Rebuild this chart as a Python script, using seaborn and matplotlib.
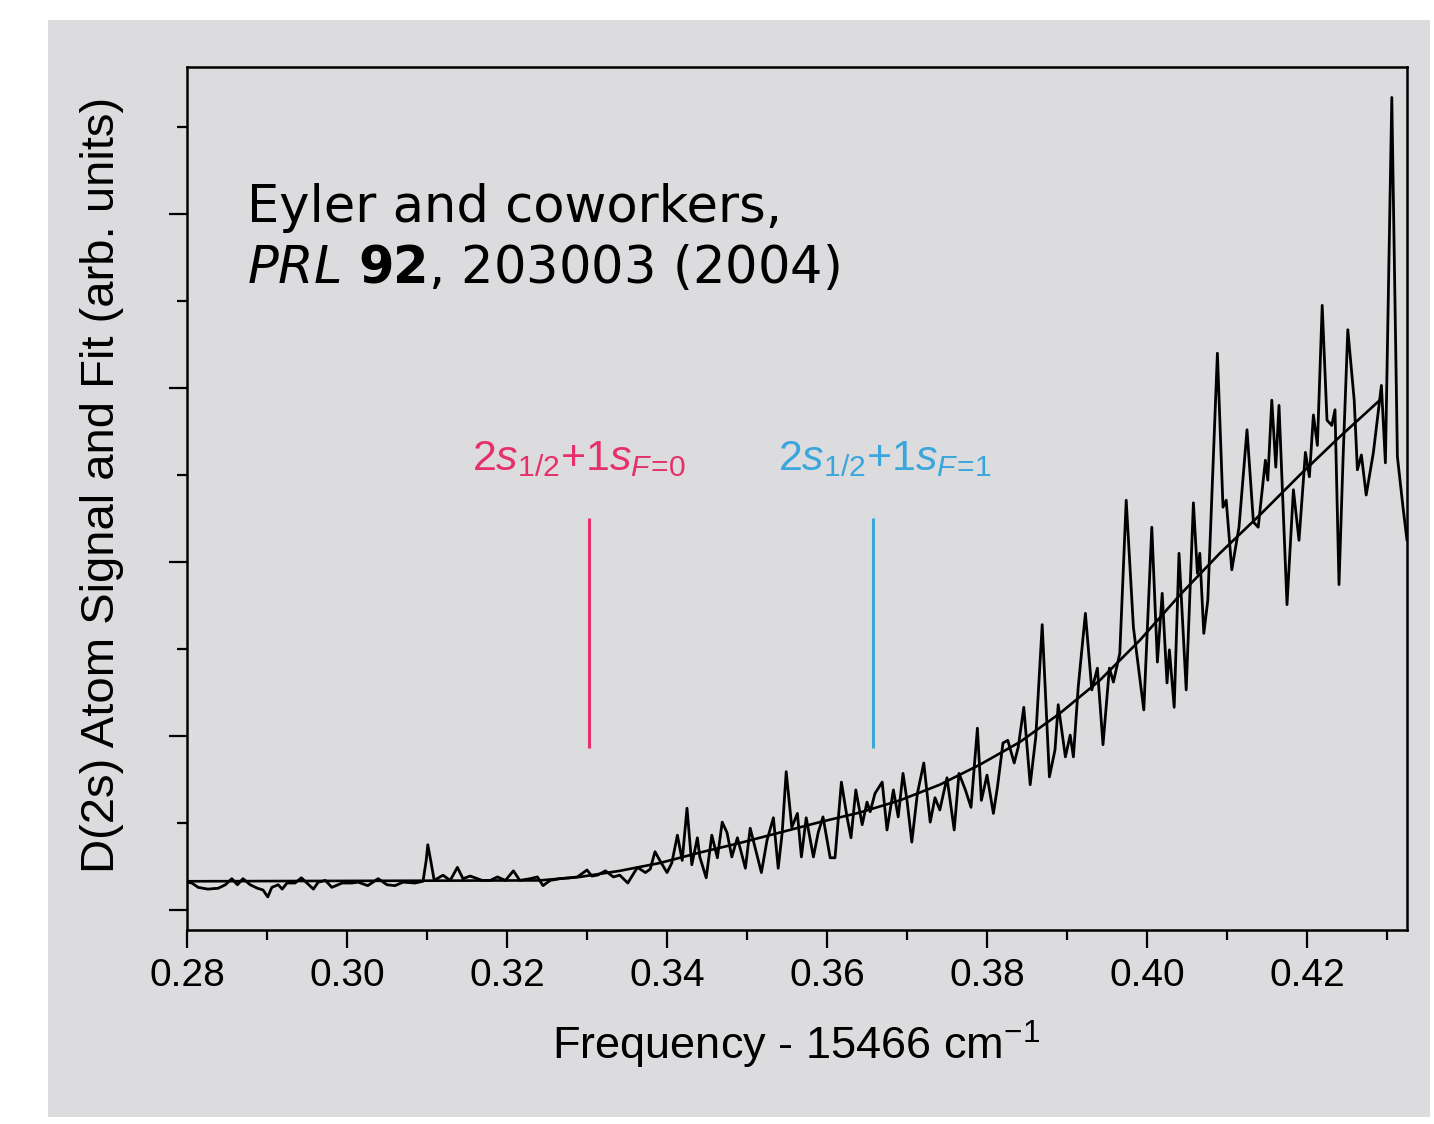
import matplotlib
matplotlib.use("Agg")
import matplotlib.pyplot as plt
import seaborn as sns
import pandas as pd
from matplotlib.patches import Rectangle

# ---------------- data ----------------
sig_x = [0.2800, 0.2806, 0.2814, 0.2826, 0.2839, 0.2848, 0.2856, 0.2863, 0.2870, 0.2879,
         0.2888, 0.2895, 0.2901, 0.2906, 0.2914, 0.2919, 0.2925, 0.2935, 0.2943, 0.2950,
         0.2958, 0.2964, 0.2973, 0.2981, 0.2994, 0.3006, 0.3014, 0.3026, 0.3039, 0.3050,
         0.3060, 0.3070, 0.3085, 0.3095,
         0.3099, 0.3101, 0.3105, 0.3109, 0.3120, 0.3129, 0.3138, 0.3145, 0.3154, 0.3169,
         0.3179, 0.3188, 0.3198, 0.3208, 0.3216, 0.3229, 0.3238, 0.3245, 0.3254, 0.3266,
         0.3279, 0.3288, 0.3300, 0.3306, 0.3313, 0.3323, 0.3333, 0.3341, 0.3351, 0.3363,
         0.3373, 0.3379, 0.3385,
         0.3391, 0.3400, 0.3406, 0.3413, 0.3419, 0.3425, 0.3431, 0.3438, 0.3441, 0.3449,
         0.3456, 0.3463, 0.3469, 0.3475, 0.3481, 0.3488, 0.3498, 0.3504, 0.3510, 0.3518,
         0.3525, 0.3533, 0.3539, 0.3544, 0.3549, 0.3556, 0.3563, 0.3568, 0.3574, 0.3583,
         0.3589, 0.3595, 0.3604, 0.3610, 0.3618, 0.3625, 0.3630, 0.3636, 0.3644, 0.3650,
         0.3654, 0.3660, 0.3669, 0.3675, 0.3683, 0.3689, 0.3695, 0.3700, 0.3706, 0.3713,
         0.3721, 0.3729, 0.3735, 0.3741, 0.3750, 0.3759, 0.3765, 0.3773, 0.3780, 0.3788,
         0.3793, 0.3800, 0.3808, 0.3813, 0.3820, 0.3826, 0.3834, 0.3839, 0.3846, 0.3854,
         0.3861, 0.3869, 0.3878, 0.3885,
         0.3889, 0.3898, 0.3904, 0.3908, 0.3914, 0.3923, 0.3931, 0.3938, 0.3945, 0.3953,
         0.3958, 0.3966, 0.3974, 0.3983, 0.3996, 0.4006, 0.4013, 0.4019, 0.4025, 0.4028,
         0.4034, 0.4040, 0.4049, 0.4058, 0.4063, 0.4066, 0.4071, 0.4076, 0.4088, 0.4095,
         0.4099, 0.4106, 0.4115,
         0.4125, 0.4133, 0.4139, 0.4148, 0.4151, 0.4156, 0.4161, 0.4165, 0.4175, 0.4183,
         0.4190, 0.4198, 0.4203, 0.4208, 0.4213, 0.4219, 0.4225, 0.4231, 0.4235, 0.4240,
         0.4245, 0.4251, 0.4259, 0.4263, 0.4268, 0.4274, 0.4283, 0.4293, 0.4298, 0.4306,
         0.4313, 0.4320, 0.4325]

sig_y = [3.2, 3.1, 2.6, 2.4, 2.5, 2.9, 3.6, 2.9, 3.6, 2.9,
         2.5, 2.3, 1.5, 2.6, 2.9, 2.4, 3.1, 3.1, 3.7, 3.1,
         2.4, 3.2, 3.4, 2.6, 3.1, 3.1, 3.2, 2.8, 3.6, 2.9,
         2.8, 3.2, 3.1, 3.3,
         5.7, 7.5, 5.5, 3.4, 4.0, 3.4, 4.9, 3.6, 3.9, 3.4,
         3.4, 3.8, 3.4, 4.5, 3.4, 3.6, 3.8, 2.8, 3.4, 3.6,
         3.7, 3.8, 4.6, 3.9, 4.0, 4.5, 3.8, 4.0, 3.1, 4.9,
         4.3, 4.7, 6.7,
         5.7, 4.3, 5.4, 8.6, 5.7, 11.7, 5.2, 8.3, 6.1, 3.7,
         8.6, 6.0, 10.1, 8.9, 6.1, 8.3, 4.8, 9.4, 7.2, 4.3,
         8.0, 10.6, 4.8, 8.9, 15.9, 9.5, 11.1, 6.1, 10.6, 6.1,
         8.9, 10.7, 6.0, 6.0, 14.7, 10.7, 8.3, 13.8, 9.8, 12.4,
         11.3, 13.4, 14.7, 9.2, 13.8, 10.7, 15.7, 12.6, 7.8, 13.4,
         16.9, 10.1, 12.9, 11.5, 15.2, 9.2, 15.7, 13.8, 11.8, 20.9,
         12.6, 15.5, 11.1, 14.1, 19.2, 19.5, 16.9, 18.7, 23.3, 14.4,
         19.9, 32.8, 15.3, 18.4,
         23.6, 17.6, 20.1, 17.6, 25.6, 34.1, 25.3, 27.8, 19.0, 27.8,
         26.2, 29.5, 47.1, 32.5, 23.0, 44.0, 28.5, 36.4, 26.1, 29.9,
         23.3, 41.0, 25.3, 46.8, 38.7, 41.0, 31.8, 35.6, 64.0, 46.3,
         47.1, 39.1, 44.0,
         55.2, 44.6, 44.0, 51.7, 49.4, 58.6, 50.9, 58.0, 35.1, 48.3,
         42.5, 52.6, 49.8, 56.9, 53.4, 69.5, 56.3, 55.7, 57.5, 37.4,
         51.7, 66.7, 58.6, 50.6, 52.3, 47.7, 52.6, 60.3, 51.4, 93.4,
         52.1, 46.3, 42.5]

fit_x = [0.2800, 0.3241, 0.3291, 0.3341, 0.3391, 0.3441, 0.3491, 0.3541, 0.3591, 0.3641,
         0.3691, 0.3741, 0.3791, 0.3841, 0.3891, 0.3941, 0.3991, 0.4041, 0.4091, 0.4141,
         0.4191, 0.4241, 0.4291]
fit_y = [3.3, 3.4, 3.8, 4.5, 5.4, 6.6, 7.7, 8.9, 10.1, 11.2,
         12.6, 14.4, 16.7, 19.3, 22.6, 26.4, 31.0, 36.2, 41.0, 45.4,
         50.0, 54.4, 58.6]

marker_x = [0.3302, 0.3658]
marker_ymin = [18.6, 18.6]
marker_ymax = [45.1, 45.1]
marker_colors = ["#e5306c", "#3aa6dc"]
marker_labels = [r"2$s_{\mathregular{1/2}}$+1$s_{F\!=\!\mathregular{0}}$",
                 r"2$s_{\mathregular{1/2}}$+1$s_{F\!=\!\mathregular{1}}$"]
label_x = [0.3156, 0.3539]
label_y = [50.6, 50.6]

x_major = [0.28, 0.30, 0.32, 0.34, 0.36, 0.38, 0.40, 0.42]
x_minor = [0.29, 0.31, 0.33, 0.35, 0.37, 0.39, 0.41, 0.43]
x_ticklabels = ["0.28", "0.30", "0.32", "0.34", "0.36", "0.38", "0.40", "0.42"]
y_major = [0, 20, 40, 60, 80]
y_minor = [10, 30, 50, 70, 90]

# ---------------- style ----------------
sns.set_style("ticks")
plt.rcParams["font.family"] = ["Liberation Sans", "DejaVu Sans"]
plt.rcParams["mathtext.fontset"] = "custom"
plt.rcParams["mathtext.rm"] = "Liberation Sans"
plt.rcParams["mathtext.it"] = "Liberation Sans:italic"
plt.rcParams["mathtext.bf"] = "Liberation Sans:bold"
plt.rcParams["text.color"] = "black"
plt.rcParams["axes.labelcolor"] = "black"
plt.rcParams["xtick.color"] = "black"
plt.rcParams["ytick.color"] = "black"

panel = "#dcdcde"
fig = plt.figure(figsize=(14.34, 11.24), dpi=100, facecolor="white")
bg = Rectangle((48 / 1434, 1 - 1117 / 1124), (1430 - 48) / 1434, (1117 - 20) / 1124,
               transform=fig.transFigure, facecolor=panel, edgecolor="none", zorder=-10)
fig.add_artist(bg)
ax = fig.add_axes([187 / 1434, 1 - 930 / 1124, (1407 - 187) / 1434, (930 - 67) / 1124])
ax.set_zorder(5)
ax.set_facecolor(panel)

df_sig = pd.DataFrame({"x": sig_x, "y": sig_y})
df_fit = pd.DataFrame({"x": fit_x, "y": fit_y})
sns.lineplot(data=df_sig, x="x", y="y", ax=ax, color="black", linewidth=2.0,
             sort=False, estimator=None)
sns.lineplot(data=df_fit, x="x", y="y", ax=ax, color="black", linewidth=1.9,
             sort=False, estimator=None)

for xv, y0, y1, c, lab, lx, ly in zip(marker_x, marker_ymin, marker_ymax, marker_colors,
                                      marker_labels, label_x, label_y):
    ax.vlines(xv, y0, y1, color=c, linewidth=2.2)
    ax.text(lx, ly, lab, color=c, fontsize=31, ha="left", va="baseline")

ax.set_xlim(0.28, 0.4325)
ax.set_ylim(-2.3, 96.9)
ax.set_xticks(x_major)
ax.set_xticklabels(x_ticklabels)
ax.set_xticks(x_minor, minor=True)
ax.set_yticks(y_major)
ax.set_yticks(y_minor, minor=True)
ax.set_yticklabels([])
ax.tick_params(axis="both", which="major", direction="out", length=13, width=1.6,
               color="black", labelcolor="black", labelsize=28, pad=7,
               bottom=True, left=True, top=False, right=False)
ax.tick_params(axis="both", which="minor", direction="out", length=7, width=1.6,
               color="black", bottom=True, left=True, top=False, right=False)
for sp in ax.spines.values():
    sp.set_visible(True)
    sp.set_linewidth(1.8)
    sp.set_color("black")

ax.set_xlabel(r"Frequency - 15466 cm$^{\mathregular{-1}}$", fontsize=32.5, color="black")
ax.set_ylabel("D(2s) Atom Signal and Fit (arb. units)", fontsize=34, color="black")
ax.xaxis.set_label_coords(0.499, -0.103)
ax.yaxis.set_label_coords(-0.052, 0.516)

ax.text(0.049, 0.820, "Eyler and coworkers,", transform=ax.transAxes, fontsize=36.8,
        family="DejaVu Sans", ha="left", va="baseline", color="black")
ax.text(0.049, 0.750, r"$\mathit{PRL}$ $\mathbf{92}$, 203003 (2004)",
        transform=ax.transAxes, fontsize=36.8, family="DejaVu Sans",
        math_fontfamily="dejavusans", ha="left", va="baseline", color="black")

fig.savefig("out.png", dpi=100, facecolor=fig.get_facecolor())
